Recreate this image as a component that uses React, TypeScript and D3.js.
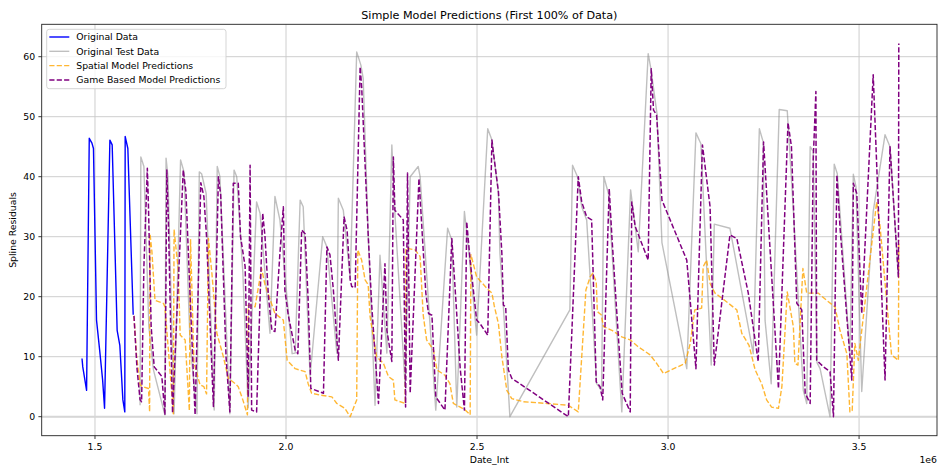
import React from "react";
import * as d3 from "d3";

// Date_Int values are stored in thousands (x1000 = Date_Int), residuals as-is
const origX = [1466, 1468, 1478, 1485, 1492, 1496, 1504, 1513, 1520, 1525, 1539, 1545, 1558, 1565, 1573, 1578, 1579, 1586, 1600];
const origY = [9.7, 8.3, 4.4, 46.4, 45.6, 44.7, 16.1, 10.6, 6.1, 1.4, 46.1, 45.3, 14.4, 11.9, 2.8, 0.8, 46.7, 44.7, 17.0];

const testX = [1618, 1620, 1628, 1641, 1653, 1683, 1686, 1691, 1707, 1724, 1733, 1749, 1767, 1773, 1779, 1791, 1812, 1820, 1827, 1853, 1864, 1871, 1887, 1901, 1923, 1932, 1958, 1971, 1984, 2016, 2024, 2037, 2045, 2063, 2096, 2107, 2133, 2137, 2150, 2168, 2185, 2196, 2202, 2215, 2233, 2246, 2264, 2277, 2285, 2312, 2325, 2346, 2351, 2392, 2423, 2434, 2447, 2467, 2479, 2499, 2528, 2539, 2556, 2560, 2569, 2586, 2743, 2750, 2763, 2774, 2787, 2813, 2826, 2832, 2844, 2879, 2902, 2922, 2948, 2955, 2971, 2984, 3049, 3073, 3086, 3113, 3121, 3162, 3223, 3239, 3249, 3254, 3270, 3291, 3312, 3328, 3354, 3363, 3372, 3380, 3390, 3398, 3424, 3435, 3443, 3476, 3485, 3492, 3507, 3537, 3568, 3581, 3603];
const testY = [1.9, 43.3, 41.7, 15, 7.8, 0.3, 43.1, 40, 0.5, 42.8, 40.8, 12, 0.5, 40.8, 40.5, 37.2, 1.1, 41.7, 40, 0.5, 41.1, 40, 24, 1.5, 35.8, 33.9, 13.9, 36.7, 32.8, 10.5, 10.6, 36.1, 35, 6.7, 30, 28.3, 10.6, 36.4, 34.4, 23, 60.8, 58.6, 56.4, 30.5, 1.9, 26.9, 10.6, 45.3, 33.9, 5, 40, 41.7, 40, 1.1, 31.4, 29.4, 1.6, 34.2, 27.2, 13.6, 48, 46.1, 37.2, 27.2, 18.3, 0, 17.8, 41.9, 40, 35, 32.8, 5.5, 4.4, 40, 37.2, 0.8, 37.8, 27.5, 60.5, 58, 50.5, 29, 8, 47.3, 45.5, 8.6, 32.1, 31.4, 10.5, 48, 45.8, 16, 5.5, 51.2, 51, 34.4, 4.4, 2.2, 45, 44.2, 9, 8, 0, 42.1, 40.5, 10.5, 40.4, 38.3, 4.2, 34.2, 47, 45, 23.3];

const spatialX = [1602, 1609, 1618, 1625, 1640, 1643, 1644, 1649, 1657, 1679, 1683, 1696, 1705, 1707, 1718, 1723, 1736, 1747, 1750, 1759, 1775, 1785, 1792, 1797, 1806, 1819, 1836, 1849, 1867, 1875, 1887, 1899, 1901, 1919, 1936, 1945, 1971, 1993, 2003, 2024, 2050, 2058, 2067, 2089, 2120, 2133, 2154, 2168, 2185, 2188, 2198, 2207, 2215, 2220, 2237, 2255, 2268, 2281, 2285, 2312, 2314, 2338, 2351, 2359, 2368, 2386, 2395, 2416, 2429, 2438, 2456, 2469, 2482, 2484, 2499, 2513, 2530, 2539, 2545, 2556, 2565, 2578, 2591, 2621, 2683, 2739, 2765, 2785, 2796, 2803, 2812, 2815, 2825, 2831, 2853, 2879, 2901, 2921, 2953, 2970, 2988, 3045, 3058, 3070, 3088, 3092, 3101, 3110, 3123, 3148, 3158, 3180, 3193, 3212, 3228, 3236, 3245, 3258, 3271, 3289, 3298, 3312, 3328, 3332, 3340, 3353, 3363, 3393, 3415, 3437, 3450, 3468, 3476, 3482, 3489, 3498, 3546, 3555, 3572, 3585, 3603, 3604];
const spatialY = [16.8, 10, 5.3, 5.0, 4.7, 0.8, 30.5, 27.5, 19.4, 18.9, 18.3, 8, 0.5, 31.2, 24.4, 13.6, 12.8, 1.0, 29.6, 9, 5.3, 5.0, 3.8, 29.7, 23.9, 13.9, 10, 6.4, 5.5, 5.0, 2.8, 0.3, 18.6, 18.3, 24.7, 22, 17.2, 16.1, 9.4, 8.0, 7.5, 5.5, 3.9, 3.6, 3.3, 2.2, 1.4, 0, 2.8, 27.8, 26.1, 22.8, 22, 16.7, 10, 8.9, 6.7, 6.1, 2.8, 2.2, 28.1, 27.8, 26.7, 17, 12.8, 11.1, 7.8, 6.9, 5.5, 2.2, 1.6, 1.1, 0.3, 27, 23.3, 22.3, 21.1, 20.6, 18.5, 15.5, 10, 4.4, 3.0, 2.5, 2.2, 1.9, 0.8, 21.1, 23.3, 23.9, 22.5, 17.5, 17, 15, 14.4, 13.3, 12.8, 11.7, 10.3, 8.9, 7.2, 8.9, 12.2, 17.8, 18.1, 25, 26.1, 22.2, 20.6, 19.4, 18.9, 17.8, 13.9, 11.9, 7.8, 6.7, 5.5, 2.8, 1.6, 1.4, 5, 20.8, 15, 8.9, 8.6, 24.7, 20.6, 20.6, 19.4, 18.3, 14.4, 10.5, 0.8, 1.0, 12.2, 9.4, 35.8, 31.7, 19.4, 10.3, 9.4, 29.4];

const gameX = [1602, 1610, 1618, 1622, 1628, 1637, 1640, 1647, 1655, 1675, 1683, 1688, 1692, 1703, 1731, 1738, 1749, 1762, 1777, 1785, 1792, 1810, 1823, 1829, 1843, 1853, 1862, 1875, 1881, 1893, 1901, 1906, 1910, 1923, 1939, 1945, 1954, 1963, 1971, 1984, 1993, 1997, 2006, 2024, 2031, 2041, 2050, 2058, 2065, 2098, 2107, 2115, 2124, 2137, 2152, 2160, 2168, 2172, 2181, 2194, 2198, 2215, 2224, 2242, 2259, 2264, 2277, 2281, 2285, 2307, 2313, 2318, 2325, 2348, 2357, 2366, 2373, 2382, 2392, 2416, 2434, 2442, 2456, 2467, 2473, 2482, 2499, 2508, 2528, 2539, 2543, 2556, 2565, 2569, 2575, 2582, 2591, 2739, 2765, 2774, 2787, 2800, 2812, 2822, 2829, 2846, 2853, 2870, 2880, 2901, 2905, 2914, 2948, 2956, 2962, 2970, 2984, 3049, 3073, 3090, 3110, 3121, 3162, 3180, 3210, 3236, 3250, 3289, 3314, 3323, 3337, 3350, 3359, 3372, 3380, 3387, 3389, 3407, 3424, 3433, 3442, 3450, 3472, 3481, 3485, 3494, 3507, 3537, 3568, 3581, 3603, 3604];
const gameY = [16.8, 8, 2.8, 2.5, 25, 41.4, 35, 15, 8.3, 6.7, 0.3, 41.1, 33, 0.6, 41.1, 37.5, 20, 0.3, 39.0, 36.7, 30, 1.7, 40.0, 37, 10, 0.8, 38.9, 38.9, 30, 25, 3.3, 41.9, 1.1, 0.8, 33.9, 30, 20, 14.4, 14.2, 27.2, 35, 21.1, 16.9, 11.1, 10.5, 31.1, 30.5, 19.4, 4.7, 3.9, 28.3, 27, 21.1, 9.4, 33.3, 31, 22.8, 21.7, 21.5, 58.3, 55, 30.5, 18.9, 2.2, 25.5, 14.4, 9.2, 43.3, 34.4, 32.8, 1.6, 40.6, 3.9, 39.7, 30, 20.6, 17.2, 16.9, 3.3, 1.1, 29.7, 22, 8, 1.1, 32.5, 26, 16.1, 15.5, 13.6, 46.1, 43.9, 37.5, 27.2, 18.6, 18.3, 7.8, 6.4, 0, 40, 35.8, 33.3, 32.8, 5.8, 5, 2.8, 38.0, 30, 13.3, 3.9, 0.8, 35.8, 31.7, 26.1, 58.0, 51.1, 50.3, 36.1, 26.1, 8.0, 45.3, 35, 8.6, 30.3, 29.7, 20.6, 9.2, 45.8, 4.7, 49.0, 45, 18.9, 17.8, 3.9, 2.2, 42.8, 54.2, 9.4, 8.3, 7.5, 0, 40.3, 31.7, 13.3, 6.1, 38.9, 37.2, 17.2, 57.0, 6.1, 45, 23.3, 62.2];

const xTicks = [1500, 2000, 2500, 3000, 3500];
const xTickLabels = ["1.5", "2.0", "2.5", "3.0", "3.5"];
const yTicks = [0, 10, 20, 30, 40, 50, 60];

const legendItems = [
  { label: "Original Data", color: "#0000ff", opacity: 1, dash: "", width: 1.4 },
  { label: "Original Test Data", color: "#808080", opacity: 0.5, dash: "", width: 1.4 },
  { label: "Spatial Model Predictions", color: "#ffa500", opacity: 0.8, dash: "5.2 2.2", width: 1.4 },
  { label: "Game Based Model Predictions", color: "#800080", opacity: 1, dash: "5.2 2.2", width: 1.5 },
];

const W = 938;
const H = 465;
const L = 41.7, R = 937, T = 24.3, B = 435.7;
const FONT = "DejaVu Sans, sans-serif";

export default function App() {
  const x = d3.scaleLinear().domain([1360.5, 3704]).range([L, R]);
  const y = d3.scaleLinear().domain([-3.17, 65.4]).range([B, T]);

  const mk = (xs: number[], ys: number[]) =>
    d3.line<number>().x((_, i) => x(xs[i])).y((d) => y(d))(ys) || "";

  const series = [
    { d: mk(origX, origY), ...legendItems[0] },
    { d: mk(testX, testY), ...legendItems[1] },
    { d: mk(spatialX, spatialY), ...legendItems[2] },
    { d: mk(gameX, gameY), ...legendItems[3] },
  ];

  return (
    <svg width={W} height={H} style={{ position: "absolute", left: 0, top: 0, background: "#fff" }} fontFamily={FONT}>
      <rect x={0} y={0} width={W} height={H} fill="#fff" />
      <defs>
        <clipPath id="plot">
          <rect x={L} y={T} width={R - L} height={B - T} />
        </clipPath>
      </defs>
      <g stroke="#c8c8c8" strokeWidth={0.9}>
        {xTicks.map((t) => (
          <line key={"gx" + t} x1={x(t)} x2={x(t)} y1={T} y2={B} />
        ))}
        {yTicks.map((t) => (
          <line key={"gy" + t} x1={L} x2={R} y1={y(t)} y2={y(t)} />
        ))}
      </g>
      <line x1={L} x2={R} y1={y(0)} y2={y(0)} stroke="#d6d6d6" strokeWidth={2} />
      <g clipPath="url(#plot)" fill="none" strokeLinejoin="round">
        {series.map((s, i) => (
          <path key={i} d={s.d} stroke={s.color} strokeOpacity={s.opacity} strokeWidth={s.width} strokeDasharray={s.dash || undefined} />
        ))}
      </g>
      <rect x={L} y={T} width={R - L} height={B - T} fill="none" stroke="#222" strokeWidth={0.9} />
      {xTicks.map((t, i) => (
        <g key={"xt" + t}>
          <line x1={x(t)} x2={x(t)} y1={B} y2={B + 3.3} stroke="#222" strokeWidth={0.9} />
          <text x={x(t)} y={449.5} fontSize={9.3} textAnchor="middle" fill="#000">{xTickLabels[i]}</text>
        </g>
      ))}
      {yTicks.map((t) => (
        <g key={"yt" + t}>
          <line x1={L - 3.3} x2={L} y1={y(t)} y2={y(t)} stroke="#222" strokeWidth={0.9} />
          <text x={35.2} y={y(t) + 3.4} fontSize={9.3} textAnchor="end" fill="#000">{t}</text>
        </g>
      ))}
      <text x={(L + R) / 2} y={19} fontSize={11.2} textAnchor="middle" fill="#000">Simple Model Predictions (First 100% of Data)</text>
      <text x={(L + R) / 2} y={462.5} fontSize={9.3} textAnchor="middle" fill="#000">Date_Int</text>
      <text x={R} y={462.5} fontSize={9.3} textAnchor="end" fill="#000">1e6</text>
      <text transform={`translate(16.1, ${(T + B) / 2}) rotate(-90)`} fontSize={9.3} textAnchor="middle" fill="#000">Spline Residuals</text>
      <g>
        <rect x={46.7} y={29.3} width={179.3} height={59.4} rx={2.5} fill="#fff" fillOpacity={0.8} stroke="#d0d0d0" strokeWidth={0.9} />
        {legendItems.map((it, i) => {
          const cy = 37 + i * 14.33;
          return (
            <g key={it.label}>
              <line x1={49.3} x2={69.3} y1={cy} y2={cy} stroke={it.color} strokeOpacity={it.opacity} strokeWidth={it.width} strokeDasharray={it.dash || undefined} />
              <text x={76.3} y={cy + 3.4} fontSize={9.3} fill="#000">{it.label}</text>
            </g>
          );
        })}
      </g>
    </svg>
  );
}
